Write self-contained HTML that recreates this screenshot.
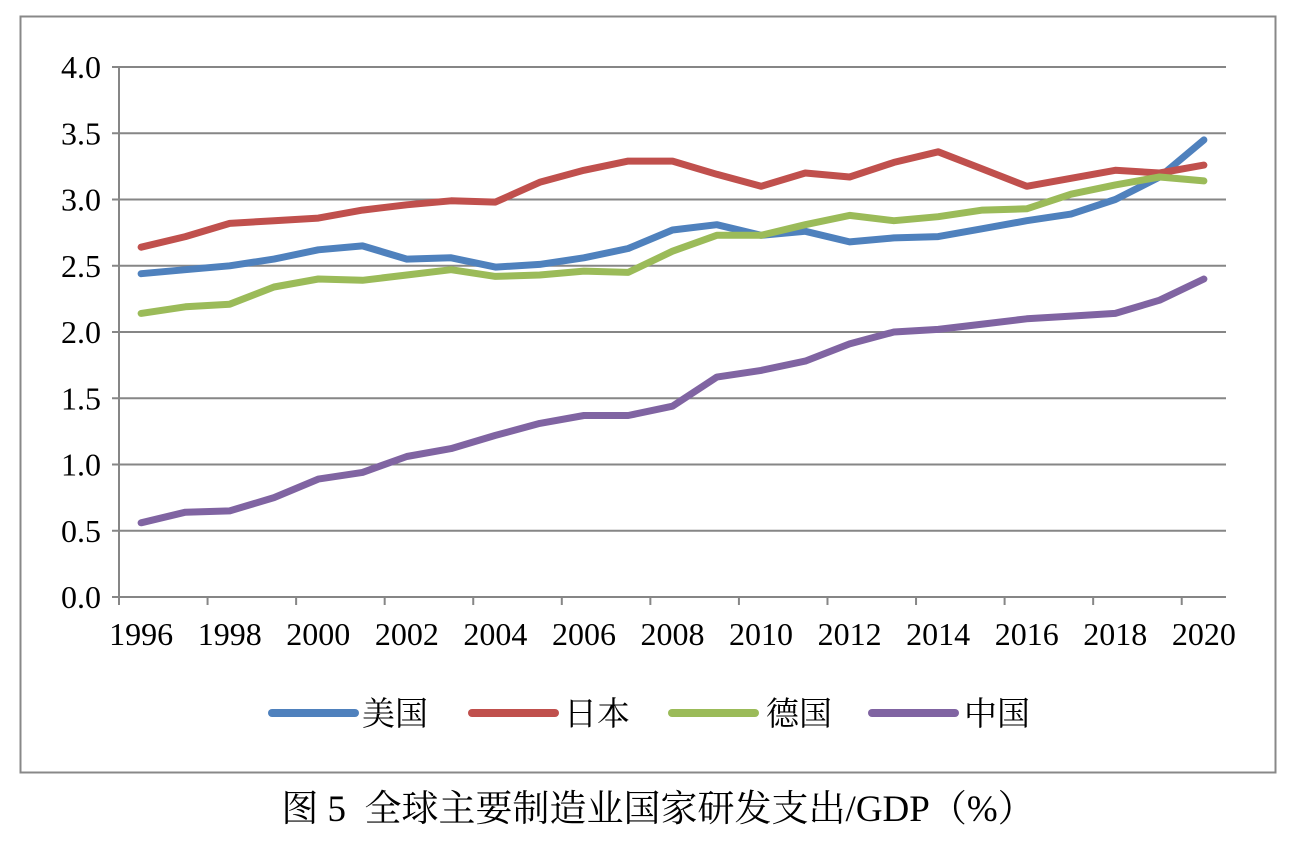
<!DOCTYPE html>
<html><head><meta charset="utf-8">
<style>
html,body{margin:0;padding:0;background:#fff;}
body{width:1292px;height:836px;overflow:hidden;font-family:"Liberation Serif","Noto Serif CJK SC",serif;}
</style></head>
<body>
<svg id="chart" width="1292" height="836" xmlns="http://www.w3.org/2000/svg">
<rect x="20.5" y="16.5" width="1255" height="756" fill="#fff" stroke="#888" stroke-width="2"/>
<g id="grid"></g><g id="axes"></g><g id="series"></g>
<g font-size="33" font-family="Liberation Serif, Noto Serif CJK SC, serif">
<g><line x1="272" y1="713" x2="355" y2="713" stroke="#4F81BD" stroke-width="8" stroke-linecap="round"/><text x="362" y="725">美国</text></g>
<g><line x1="472" y1="713" x2="555" y2="713" stroke="#C0504D" stroke-width="8" stroke-linecap="round"/><text x="564" y="725">日本</text></g>
<g><line x1="672" y1="713" x2="755" y2="713" stroke="#9BBB59" stroke-width="8" stroke-linecap="round"/><text x="766" y="725">德国</text></g>
<g><line x1="872" y1="713" x2="955" y2="713" stroke="#8064A2" stroke-width="8" stroke-linecap="round"/><text x="964" y="725">中国</text></g>
</g>
<text x="658" y="821" text-anchor="middle" font-size="37" xml:space="preserve" font-family="Liberation Serif, Noto Serif CJK SC, serif">图 5  全球主要制造业国家研发支出/GDP（%）</text>
</svg>
<script>
const years=["1996","1997","1998","1999","2000","2001","2002","2003","2004","2005","2006","2007","2008","2009","2010","2011","2012","2013","2014","2015","2016","2017","2018","2019","2020"];
const yTicks=[0,0.5,1,1.5,2,2.5,3,3.5,4];
const usValues=[2.44,2.47,2.50,2.55,2.62,2.65,2.55,2.56,2.49,2.51,2.56,2.63,2.77,2.81,2.73,2.76,2.68,2.71,2.72,2.78,2.84,2.89,3.00,3.17,3.45];
const japanValues=[2.64,2.72,2.82,2.84,2.86,2.92,2.96,2.99,2.98,3.13,3.22,3.29,3.29,3.19,3.10,3.20,3.17,3.28,3.36,3.23,3.10,3.16,3.22,3.20,3.26];
const germanyValues=[2.14,2.19,2.21,2.34,2.40,2.39,2.43,2.47,2.42,2.43,2.46,2.45,2.61,2.73,2.73,2.81,2.88,2.84,2.87,2.92,2.93,3.04,3.11,3.17,3.14];
const chinaValues=[0.56,0.64,0.65,0.75,0.89,0.94,1.06,1.12,1.22,1.31,1.37,1.37,1.44,1.66,1.71,1.78,1.91,2.00,2.02,2.06,2.10,2.12,2.14,2.24,2.40];
const NS="http://www.w3.org/2000/svg";
const L=119,R=1226,T=67,B=597,yMax=4;
const step=(R-L)/years.length;
function xPos(i){return L+(i+0.5)*step;}
function yPos(v){return B-(v/yMax)*(B-T);}
function mk(tag,attrs,parent){const e=document.createElementNS(NS,tag);for(const k in attrs)e.setAttribute(k,attrs[k]);parent.appendChild(e);return e;}
const grid=document.getElementById('grid'),axes=document.getElementById('axes'),ser=document.getElementById('series');
yTicks.forEach(v=>{
  const y=yPos(v);
  if(v>0){const g=mk('line',{x1:L,x2:R,y1:y,y2:y,stroke:'#868686','stroke-width':2},grid);
  
  }
  const tk=mk('line',{x1:L-7,x2:L,y1:y,y2:y,stroke:'#868686','stroke-width':2},axes);
  
  
  const t=mk('text',{x:L-18,y:y+11,'text-anchor':'end','font-size':32},axes);
  t.textContent=v.toFixed(1);
  
  
});
const ya=mk('line',{x1:L,x2:L,y1:T,y2:B,stroke:'#868686','stroke-width':2},axes);


const xa=mk('line',{x1:L,x2:R,y1:B,y2:B,stroke:'#868686','stroke-width':2},axes);


for(let i=0;i<=years.length;i+=2){
  const x=L+i*step;
  const tk=mk('line',{x1:x,x2:x,y1:B,y2:B+8,stroke:'#868686','stroke-width':2},axes);
  
  
}
years.forEach((yr,i)=>{
  if(i%2)return;
  const t=mk('text',{x:xPos(i),y:B+48,'text-anchor':'middle','font-size':32},axes);
  t.textContent=yr;
  
  
});
const seriesList=[["series-us",usValues,"#4F81BD"],["series-japan",japanValues,"#C0504D"],["series-germany",germanyValues,"#9BBB59"],["series-china",chinaValues,"#8064A2"]];
seriesList.forEach(s=>{
  const pts=s[1].map((v,i)=>xPos(i).toFixed(1)+','+yPos(v).toFixed(1)).join(' ');
  const p=mk('polyline',{points:pts,fill:'none',stroke:s[2],'stroke-width':7,'stroke-linejoin':'round','stroke-linecap':'round'},ser);
  
  
});
</script>
</body></html>
